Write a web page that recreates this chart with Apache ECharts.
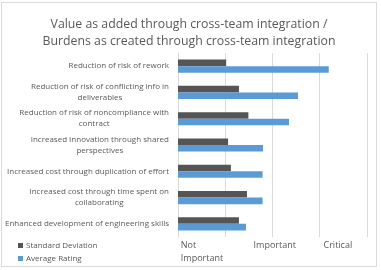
<!DOCTYPE html>
<html>
<head>
<meta charset="utf-8">
<script src="https://cdn.jsdelivr.net/npm/echarts@6/dist/echarts.min.js"></script>
<style>
  html, body { margin: 0; padding: 0; background: #fff; }
  #chart { position: absolute; left: 1px; top: 2px; width: 376px; height: 265px; border: 1px solid #d9d9d9; box-sizing: border-box; }
</style>
</head>
<body>
<div id="chart"></div>
<script>
// categories top to bottom
var categories = [
  'Reduction of risk of rework',
  'Reduction of risk of conflicting info in\ndeliverables',
  'Reduction of risk of noncompliance with\ncontract',
  'Increased Innovation through shared\nperspectives',
  'Increased cost through duplication of effort',
  'Increased cost through time spent on\ncollaborating',
  'Enhanced development of engineering skills'
]
var stdDev = [1.02, 1.29, 1.49, 1.06, 1.12, 1.46, 1.29]
var avgRating = [3.19, 2.54, 2.35, 1.80, 1.79, 1.79, 1.44]
// rating scale labels, keyed by axis position (x100)
var scaleLabels = { 6: 'Not\nImportant', 160: 'Important', 308: 'Critical' }

var chart = echarts.init(document.getElementById('chart'))
var textColor = '#595959'

chart.setOption({
  animation: false,
  title: {
    text: 'Value as added through cross-team integration /\nBurdens as created through cross-team integration',
    left: 'center',
    top: 8,
    textStyle: { color: textColor, fontSize: 12.3, fontWeight: 'normal', fontFamily: 'Open Sans', lineHeight: 17 }
  },
  legend: {
    orient: 'vertical',
    left: 16,
    top: 236,
    padding: 0,
    itemWidth: 5,
    itemHeight: 5,
    itemGap: 0,
    icon: 'rect',
    textStyle: { color: textColor, fontSize: 8, fontFamily: 'Open Sans', lineHeight: 13, padding: [0, 0, 0, -2] },
    data: ['Standard Deviation', 'Average Rating']
  },
  grid: { left: 174, right: 9, top: 50, bottom: 29 },
  xAxis: [
    {
      type: 'value',
      min: 0,
      max: 4,
      interval: 1,
      axisLine: { show: false },
      axisTick: { show: false },
      axisLabel: { show: false },
      splitLine: { lineStyle: { color: '#d9d9d9' } }
    },
    {
      type: 'value',
      min: 0,
      max: 4,
      interval: 0.02,
      position: 'bottom',
      axisLine: { show: false },
      axisTick: { show: false },
      splitLine: { show: false },
      axisLabel: {
        align: 'left',
        margin: 2,
        color: textColor,
        fontSize: 9,
        fontFamily: 'Open Sans',
        lineHeight: 13,
        formatter: function (v) {
          return scaleLabels[Math.round(v * 100)] || ''
        }
      }
    }
  ],
  yAxis: {
    type: 'category',
    inverse: true,
    data: categories,
    axisLine: { lineStyle: { color: '#d9d9d9' } },
    axisTick: { show: false },
    axisLabel: {
      color: textColor,
      fontSize: 8,
      fontFamily: 'Open Sans',
      lineHeight: 11,
      margin: 9,
      formatter: function (v) {
        return v.split('\n').map(function (s) { return '{c|' + s + '}' }).join('\n')
      },
      rich: { c: { align: 'center', color: textColor, fontSize: 8, fontFamily: 'Open Sans', lineHeight: 11 } }
    }
  },
  series: [
    {
      name: 'Standard Deviation',
      type: 'bar',
      data: stdDev,
      barGap: '0%',
      barCategoryGap: '50%',
      itemStyle: { color: '#555555' }
    },
    {
      name: 'Average Rating',
      type: 'bar',
      data: avgRating,
      itemStyle: { color: '#5b9bd5' }
    }
  ]
})
</script>
</body>
</html>
